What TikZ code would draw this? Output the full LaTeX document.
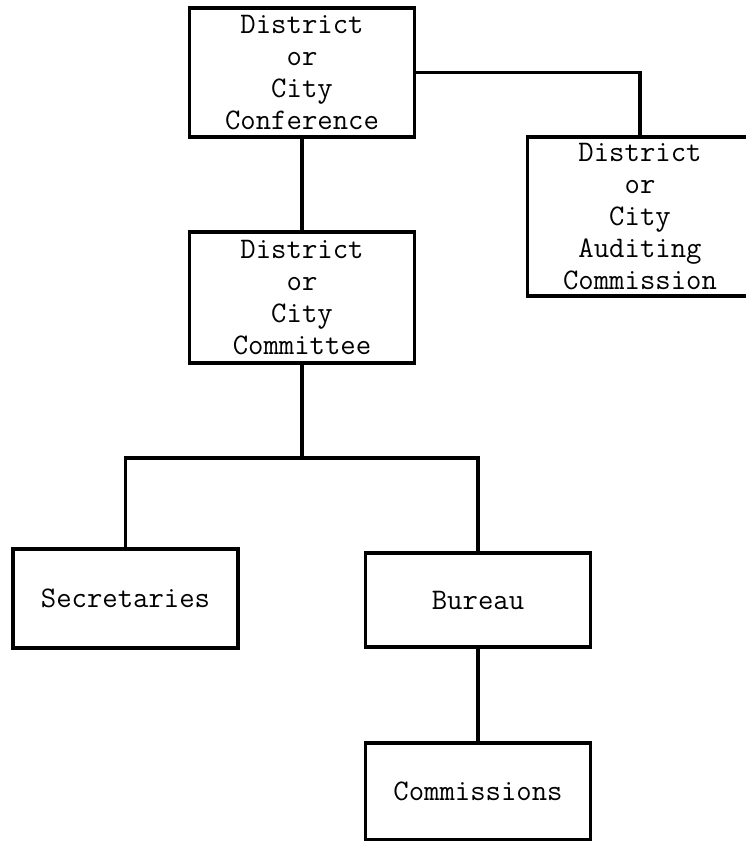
\documentclass[tikz,border=0pt]{standalone}
\usepackage{tikz}
\usetikzlibrary{arrows}

\tikzset{
	orgbox/.style={draw,line width=2pt,align=center,minimum width=4.5cm,inner sep=2pt,
		font=\ttfamily\fontsize{17}{18.2}\selectfont},
}

\begin{document}
\begin{tikzpicture}[x=0.02cm,y=-0.02cm,line width=2pt]
	\useasboundingbox (0,0) rectangle (746,841);
	\node[orgbox,minimum height=2.58cm] (0) at (302,72.5) {District\\or\\City\\Conference};
	\node[orgbox,minimum height=3.18cm] (1) at (640,216.5) {District\\or\\City\\Auditing\\Commission};
	\node[orgbox,minimum height=2.62cm] (2) at (302,297.5) {District\\or\\City\\Committee};
	\node[orgbox,minimum height=1.98cm] (3) at (125.5,598.5) {Secretaries};
	\node[orgbox,minimum height=1.88cm] (4) at (478,600) {Bureau};
	\node[orgbox,minimum height=1.94cm] (5) at (478,791.5) {Commissions};
	\coordinate (6) at (299,458);
	\draw [-,>=latex,](0)--(2);
	\draw [-,>=latex,](0)-|(1);
	\draw [-,>=latex,](2)--(2|-6);
	\draw [-,>=latex,](3)|-(6)-|(4);
	\draw [-,>=latex,](4)--(5);
\end{tikzpicture}
\end{document}
